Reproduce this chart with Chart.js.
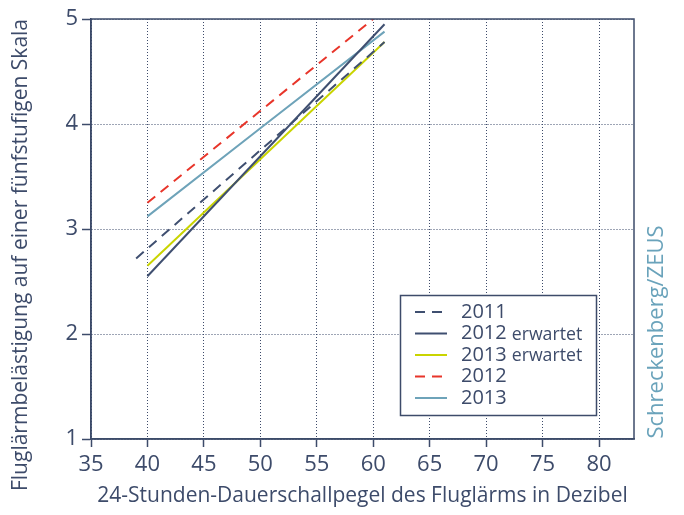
<!DOCTYPE html>
<html>
<head>
<meta charset="utf-8">
<script src="https://cdn.jsdelivr.net/npm/chart.js@4/dist/chart.umd.min.js"></script>
<style>
  html, body { margin: 0; padding: 0; background: #ffffff; }
  #wrap { width: 684px; height: 515px; }
</style>
</head>
<body>
<div id="wrap"><canvas id="c" width="684" height="515"></canvas></div>
<script>
// ---- data ----
const seriesLabels = ['2011', '2012 erwartet', '2013 erwartet', '2012', '2013'];
const x2011 = [39, 61];
const y2011 = [2.72, 4.78];
const x2012exp = [40, 61];
const y2012exp = [2.55, 4.95];
const x2013exp = [40, 61];
const y2013exp = [2.65, 4.78];
const x2012 = [40, 60];
const y2012 = [3.25, 5.0];
const x2013 = [40, 50, 61];
const y2013 = [3.12, 3.96, 4.88];
const xTickRange = [35, 83.1];
const yTickRange = [1, 5];
const xTitle = '24-Stunden-Dauerschallpegel des Fluglärms in Dezibel';
const yTitle = 'Fluglärmbelästigung auf einer fünfstufigen Skala';
const sourceText = 'Schreckenberg/ZEUS';

// ---- styles ----
const INK = '#3d4b6a';
const FONT = '"Open Sans", "Noto Sans", sans-serif';
const colors = ['#3f4f70', '#3f4f70', '#c9d400', '#e8352a', '#6ea3b9'];
const dashes = [[10, 7], [], [], [10, 7], []];

function pts(xs, ys) { return xs.map((x, i) => ({ x: x, y: ys[i] })); }
const seriesData = [pts(x2011, y2011), pts(x2012exp, y2012exp), pts(x2013exp, y2013exp), pts(x2012, y2012), pts(x2013, y2013)];

const datasets = seriesLabels.map((lab, i) => ({
  label: lab,
  data: seriesData[i],
  borderColor: colors[i],
  backgroundColor: colors[i],
  borderWidth: 2,
  borderDash: dashes[i],
  pointRadius: 0,
  showLine: true,
  fill: false,
  tension: 0
}));

const framePlugin = {
  id: 'frame',
  afterDraw(chart) {
    const { ctx, chartArea: a } = chart;
    ctx.save();
    ctx.strokeStyle = INK;
    ctx.lineWidth = 1.5;
    ctx.strokeRect(a.left, a.top, a.right - a.left, a.bottom - a.top);

    // legend box
    const bx = 400.5, by = 295.5, bw = 196, bh = 120;
    ctx.fillStyle = '#ffffff';
    ctx.fillRect(bx, by, bw, bh);
    ctx.lineWidth = 1.5;
    ctx.strokeRect(bx, by, bw, bh);
    const rowY = [312, 333.5, 355, 376.5, 398];
    chart.data.datasets.forEach((ds, i) => {
      const y = rowY[i];
      ctx.beginPath();
      ctx.setLineDash(ds.borderDash || []);
      ctx.strokeStyle = ds.borderColor;
      ctx.lineWidth = 2;
      ctx.moveTo(415, y);
      ctx.lineTo(447, y);
      ctx.stroke();
      ctx.setLineDash([]);
      const parts = ds.label.split(' ');
      ctx.fillStyle = INK;
      ctx.textBaseline = 'middle';
      ctx.textAlign = 'left';
      ctx.font = '20px ' + FONT;
      ctx.fillText(parts[0], 461, y);
      if (parts.length > 1) {
        const w = ctx.measureText(parts[0]).width;
        ctx.font = '17.7px ' + FONT;
        ctx.fillText(parts.slice(1).join(' '), 461 + w + 5, y + 1);
      }
    });
    ctx.restore();

    // y axis title
    ctx.save();
    ctx.translate(21, 255);
    ctx.rotate(-Math.PI / 2);
    ctx.fillStyle = INK;
    ctx.font = '21px ' + FONT;
    ctx.textAlign = 'center';
    ctx.textBaseline = 'middle';
    ctx.fillText(yTitle, 0, 0);
    ctx.restore();

    // source credit
    ctx.save();
    ctx.translate(657, 332);
    ctx.rotate(-Math.PI / 2);
    ctx.fillStyle = '#6aa3bb';
    ctx.font = '22px ' + FONT;
    ctx.textAlign = 'center';
    ctx.textBaseline = 'middle';
    ctx.fillText(sourceText, 0, 0);
    ctx.restore();
  }
};

new Chart(document.getElementById('c'), {
  type: 'scatter',
  data: { datasets: datasets },
  options: {
    responsive: false,
    animation: false,
    devicePixelRatio: 1,
    layout: { padding: { left: 0, right: 50, top: 19, bottom: 0 } },
    plugins: { legend: { display: false }, tooltip: { enabled: false } },
    scales: {
      x: {
        type: 'linear',
        min: xTickRange[0],
        max: xTickRange[1],
        afterFit(s) { s.height = 76; },
        ticks: { stepSize: 5, includeBounds: false, color: INK, font: { family: FONT, size: 22 }, padding: 5, maxRotation: 0 },
        grid: { color: INK, lineWidth: 1, tickBorderDash: [], tickColor: INK, tickWidth: 1.5, tickLength: 8 },
        border: { display: true, color: INK, width: 1.5, dash: [1, 2] },
        title: { display: true, text: xTitle, color: INK, font: { family: FONT, size: 21 }, padding: { bottom: 6 } }
      },
      y: {
        type: 'linear',
        min: yTickRange[0],
        max: yTickRange[1],
        afterFit(s) { s.width = 91; },
        ticks: { stepSize: 1, color: INK, font: { family: FONT, size: 22 }, padding: 4 },
        grid: { color: INK, lineWidth: 1, tickBorderDash: [], tickColor: INK, tickWidth: 1.5, tickLength: 9 },
        border: { display: true, color: INK, width: 1.5, dash: [1, 2] },
        title: { display: false }
      }
    }
  },
  plugins: [framePlugin]
});
</script>
</body>
</html>
